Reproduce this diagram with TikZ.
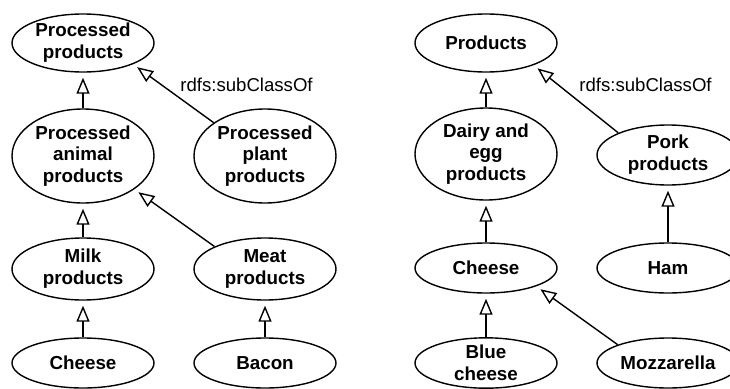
\documentclass[tikz,border=0pt]{standalone}
\usepackage{fontspec}
\setmainfont{Liberation Sans}
\usetikzlibrary{shapes.geometric,arrows.meta}

\tikzset{
  cls/.style={ellipse, draw, line width=1.4pt, inner sep=0pt,
    minimum width=142pt, align=center,
    font=\fontsize{18.8}{21.8}\selectfont\bfseries},
  sub/.style={line width=1.4pt, shorten >=5pt,
    -{Triangle[open, length=16pt, width=13pt, line width=1.4pt]}},
  lbl/.style={font=\fontsize{18.6}{21.8}\selectfont, inner sep=0pt}
}

\begin{document}
\begin{tikzpicture}[x=1pt, y=-1pt]
  \useasboundingbox (0,0) rectangle (730,388);

  % processed products hierarchy
  \node[cls, minimum height=58pt] (pp)   at (83,43)  {Processed\\products};
  \node[cls, minimum height=94pt] (pa)   at (83,156) {Processed\\animal\\products};
  \node[cls, minimum height=94pt] (pl)   at (265,156) {Processed\\plant\\products};
  \node[cls, minimum height=62pt] (milk) at (83,269) {Milk\\products};
  \node[cls, minimum height=62pt] (meat) at (265,269) {Meat\\products};
  \node[cls, minimum height=50pt] (chL)  at (83,363) {Cheese};
  \node[cls, minimum height=50pt] (bac)  at (265,363) {Bacon};

  \draw[sub] (pa) -- (pp);
  \draw[sub] (pl.147) -- (pp.-23);
  \draw[sub] (milk) -- (pa);
  \draw[sub] (meat.156) -- (pa.-33);
  \draw[sub] (chL) -- (milk);
  \draw[sub] (bac) -- (meat);
  \node[lbl] (lblL) at (246.5,85) {rdfs:subClassOf};

  % products hierarchy
  \node[cls, minimum height=58pt] (prod)  at (486,43)  {Products};
  \node[cls, minimum height=92pt] (dairy) at (486,154) {Dairy and\\egg\\products};
  \node[cls, minimum height=60pt] (pork)  at (668,155) {Pork\\products};
  \node[cls, minimum height=50pt] (chR)   at (486,268) {Cheese};
  \node[cls, minimum height=50pt] (ham)   at (668,268) {Ham};
  \node[cls, minimum height=50pt] (blue)  at (486,363) {Blue\\cheese};
  \node[cls, minimum height=50pt] (mozz)  at (668,363) {Mozzarella};

  \draw[sub] (dairy) -- (prod);
  \draw[sub] (pork.156) -- (prod.-25);
  \draw[sub] (chR) -- (dairy);
  \draw[sub] (ham) -- (pork);
  \draw[sub] (blue) -- (chR);
  \draw[sub] (mozz.160) -- (chR.-20);
  \node[lbl] (lblR) at (645.5,85) {rdfs:subClassOf};
\end{tikzpicture}
\end{document}
